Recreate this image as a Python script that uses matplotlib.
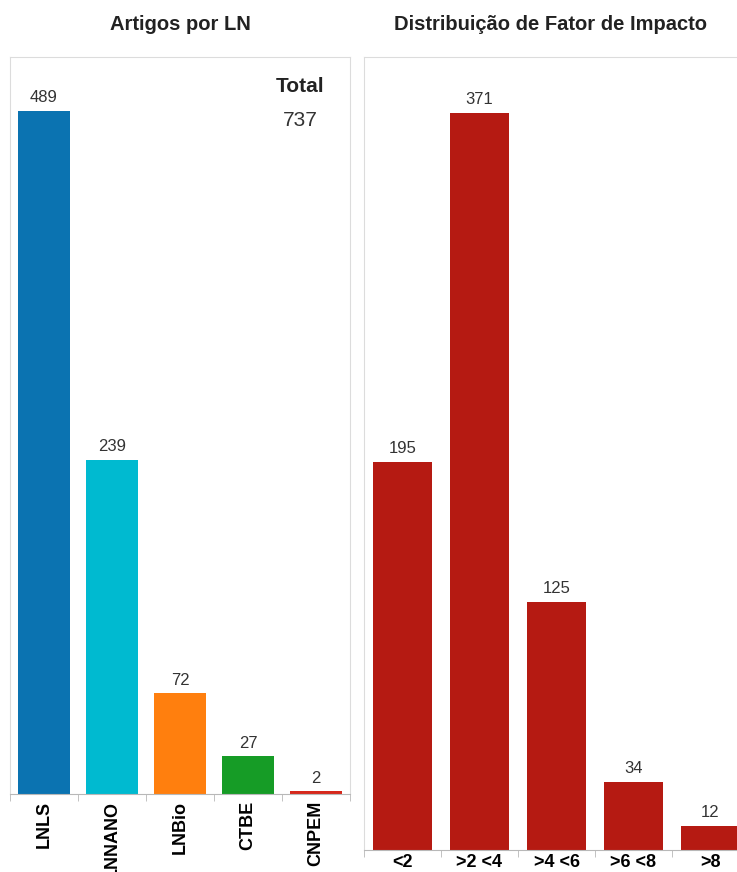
import numpy as np
import matplotlib.pyplot as plt

# Data
ln_names = ['LNLS', 'LNNANO', 'LNBio', 'CTBE', 'CNPEM']
ln_counts = [489, 239, 72, 27, 2]
ln_colors = ['#0b73b1', '#00bad0', '#ff7f0e', '#169c26', '#d6281c']

fi_bins = ['<2', '>2 <4', '>4 <6', '>6 <8', '>8']
fi_counts = [195, 371, 125, 34, 12]
fi_color = '#b51a12'

total_articles = 737  # as shown in the dashboard

plt.rcParams['font.family'] = ['Liberation Sans', 'DejaVu Sans']

W, H = 737, 872
fig = plt.figure(figsize=(W / 100, H / 100), dpi=100)


def px_axes(x0, x1, ytop, ybot):
    return fig.add_axes([x0 / W, (H - ybot) / H, (x1 - x0) / W, (ybot - ytop) / H])


def style_axes(ax, n, ymax):
    ax.set_xlim(-0.5, n - 0.5)
    ax.set_ylim(0, ymax)
    for s in ['top', 'left', 'right']:
        ax.spines[s].set_color('#dcdcdc')
    ax.spines['bottom'].set_color('#b8b8b8')
    ax.set_yticks([])
    ax.set_xticks(np.arange(n))
    ax.set_xticks(np.arange(n + 1) - 0.5, minor=True)
    ax.tick_params(axis='x', which='major', length=0, pad=5)
    ax.tick_params(axis='x', which='minor', length=5, color='#b8b8b8')


# left panel: articles per lab
ax1 = px_axes(10, 350, 57, 794)
x = np.arange(len(ln_names))
ax1.bar(x, ln_counts, width=0.76, color=ln_colors)
style_axes(ax1, len(ln_names), 527.5)
ax1.set_xticklabels(ln_names, rotation=90, fontsize=13, fontweight='bold', va='top')
for xi, v in zip(x, ln_counts):
    ax1.text(xi, v + 4, str(v), ha='center', va='bottom', fontsize=12, color='#333333')
tx = (300 - 10) / 68 - 0.5
ax1.text(tx, 513, 'Total', ha='center', va='top', fontsize=15,
         fontweight='bold', color='#222222')
ax1.text(tx, 489, str(total_articles), ha='center', va='top', fontsize=15,
         color='#333333')

# right panel: impact factor distribution
ax2 = px_axes(364, 749, 57, 850)
x2 = np.arange(len(fi_bins))
ax2.bar(x2, fi_counts, width=0.76, color=fi_color)
style_axes(ax2, len(fi_bins), 399)
ax2.set_xticklabels(fi_bins, fontsize=13, fontweight='bold')
ax2.tick_params(axis='x', which='major', pad=3)
for xi, v in zip(x2, fi_counts):
    ax2.text(xi, v + 3, str(v), ha='center', va='bottom', fontsize=12, color='#333333')

fig.text(180 / W, 1 - 25 / H, 'Artigos por LN', ha='center', va='center',
         fontsize=14.5, fontweight='bold', color='#222222')
fig.text(551 / W, 1 - 25 / H, 'Distribuição de Fator de Impacto', ha='center',
         va='center', fontsize=14.5, fontweight='bold', color='#222222')

fig.savefig('out.png', dpi=100)
